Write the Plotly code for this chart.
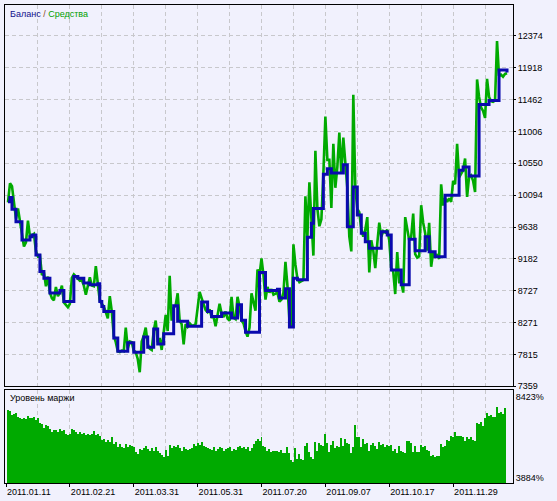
import plotly.graph_objects as go

# ---- data ----
date_labels = ["2011.01.11", "2011.02.21", "2011.03.31", "2011.05.31",
               "2011.07.20", "2011.09.07", "2011.10.17", "2011.11.29"]
date_idx = [-1, 31, 63, 95, 127, 159, 191, 223]   # trade index of each date label

balance_ticks = [7359, 7815, 8271, 8727, 9182, 9638, 10094, 10550,
                 11006, 11462, 11918, 12374]
margin_ticks = [3884, 8423]

# balance: trade index where balance changes, and the new balance
balance_idx = [0, 1, 2, 4, 7, 11, 12, 14, 16, 18,
               21, 26, 28, 33, 35, 38, 41, 45, 46, 47,
               48, 53, 55, 60, 63, 68, 70, 73, 75, 78,
               83, 85, 90, 97, 100, 102, 107, 112, 115, 117,
               119, 126, 129, 135, 136, 139, 141, 143, 145, 150,
               152, 153, 158, 160, 162, 168, 170, 173, 175, 177,
               179, 181, 187, 190, 192, 197, 201, 204, 209, 211,
               214, 219, 226, 228, 231, 236, 241, 246, 250]
balance_val = [9999, 10061, 9894, 9714, 9453, 9500, 9524, 9239, 9001, 8907,
               8693, 8730, 8574, 8930, 8907, 8836, 8811, 8826, 8574, 8502,
               8431, 8052, 7861, 7981, 7847, 8066, 7918, 8180, 7966, 8113,
               8512, 8289, 8217, 8565, 8431, 8360, 8408, 8337, 8526, 8303,
               8132, 8987, 8730, 8750, 8622, 8754, 8209, 8907, 8883, 9491,
               9691, 9904, 10393, 10474, 10412, 10531, 9642, 10212, 9809, 9548,
               9429, 9334, 9571, 9524, 9025, 8811, 9463, 9300, 9500, 9286,
               9215, 10094, 10450, 10497, 10369, 11391, 11448, 11885, 11851]

equity = [9990, 10265, 10222, 10010, 9760, 9905, 9700, 9560, 9360, 9420,
          9730, 9500, 9520, 9540, 9290, 9220, 9230, 8950, 8990, 8790,
          8930, 8700, 8620, 8590, 8780, 8650, 8700, 8800, 8560, 8520,
          8490, 8540, 8910, 8960, 8930, 8890, 8870, 8880, 8800, 8670,
          8800, 8920, 8800, 8790, 9080, 8830, 8580, 8540, 8500, 8420,
          8330, 8650, 8430, 8080, 7990, 7860, 7850, 7870, 7860, 8200,
          7900, 8000, 7990, 7870, 7850, 7750, 7560, 8000, 8080, 8200,
          7960, 7900, 7880, 8150, 8300, 7990, 8050, 7880, 8120, 8380,
          8150, 8940, 8300, 8480, 8520, 8690, 8300, 8250, 7960, 8250,
          8210, 8260, 8230, 8230, 8250, 8450, 8710, 8620, 8530, 8450,
          8420, 8460, 8350, 8350, 8220, 8380, 8540, 8400, 8350, 8430,
          8330, 8300, 8640, 8340, 8320, 8640, 8500, 8300, 8260, 8150,
          8070, 8200, 8690, 8560, 8440, 9030, 8950, 9190, 8950, 8600,
          8780, 8700, 8750, 8670, 8680, 8700, 8570, 8600, 8700, 9140,
          8800, 8300, 8200, 9390, 9100, 8900, 8850, 8870, 8880, 10080,
          9500, 10280, 9700, 9230, 10730, 9900, 9650, 9750, 10400, 11220,
          10600, 10600, 9910, 10830, 10200, 10500, 10990, 10400, 10920, 10500,
          10200, 9500, 9290, 11530, 10200, 9900, 9850, 9600, 9500, 9600,
          9780, 8990, 9450, 9300, 9050, 9400, 9700, 9500, 9580, 9560,
          9600, 9450, 9050, 9000, 8680, 9280, 8850, 8850, 8700, 9780,
          9600, 9450, 9500, 9830, 9250, 9200, 9220, 9950, 9700, 9550,
          9300, 9700, 9070, 9280, 9200, 9250, 9180, 10250, 9950, 10050,
          10000, 10050, 10000, 10300, 10250, 10830, 10350, 10400, 10450, 10620,
          10070, 10360, 10380, 10300, 10140, 11750, 11500, 11350, 11300, 11200,
          11760, 11500, 11440, 11430, 11450, 12300, 11800, 11820, 11790, 11830,
          11840]

margin = [7651, 7612, 7391, 7468, 7485, 7302, 7208, 7153, 7247, 7153,
          7335, 7208, 7247, 7280, 7097, 7247, 6970, 6914, 6693, 6837,
          6781, 6599, 6471, 6543, 6560, 6471, 6599, 6504, 6543, 6360,
          6283, 6322, 6599, 6543, 6471, 6360, 6471, 6360, 6416, 6283,
          6360, 6283, 6322, 6504, 6283, 6322, 6227, 5989, 6045, 5862,
          5989, 5862, 6139, 5768, 5862, 5618, 5768, 5585, 5546, 5768,
          5585, 5729, 5673, 5585, 5308, 5214, 5491, 5435, 5546, 5673,
          5491, 5396, 5546, 5396, 5585, 5363, 5252, 5175, 5064, 5435,
          5119, 5729, 5546, 5673, 5585, 5729, 5546, 5396, 5618, 5491,
          5435, 5491, 5546, 5768, 5673, 5806, 5729, 5862, 5673, 5585,
          5546, 5491, 5435, 5585, 5363, 5491, 5585, 5546, 5396, 5491,
          5546, 5618, 5396, 5491, 5435, 5585, 5673, 5546, 5618, 5491,
          5585, 5396, 5546, 5768, 5917, 6045, 5950,
          6172, 5673, 5618, 5363, 5491, 5308, 5363, 5396, 5363, 5308,
          5435, 5252, 5252, 5618, 5252, 4881, 4754, 5546, 4937, 5214,
          4937, 4881, 5673, 5806, 5308, 5064, 4937, 5862, 5396, 5806,
          5729, 5673, 6322, 5806, 5308, 5729, 5917, 5546, 5673, 5618,
          6100, 5673, 6045, 5806, 5768, 5252, 5618, 6820, 6172, 6139,
          5618, 6045, 5768, 5806, 5396, 5729, 5806, 5673, 5491, 5862,
          5729, 5768, 5618, 5729, 5673, 5729, 5363, 5491, 5252, 5673,
          5363, 5308, 5252, 5950, 5917, 5806, 5308, 5673, 5308, 5308,
          5729, 5585, 5673, 5435, 5363, 5119, 5175, 5031, 5119, 5119,
          5768, 5618, 5673, 5989, 5950, 6227, 6172, 6471, 6227, 6227,
          6227, 6139, 5917, 6139, 6045, 6139, 5989, 5950, 6970, 6914,
          7025, 6781, 7247, 7524, 7335, 7391, 7280, 7280, 7834, 7524,
          7579, 7468, 7762]

# ---- styling ----
BG = "#F1F1FD"
GRID = "#C8C8CC"
GREEN = "#00AA00"
BLUE = "#0A0AAE"
FONT = "Liberation Sans, Arial, sans-serif"

x_range = [-1.5, 253]
grid_idx = list(range(15, 253, 16))

fig = go.Figure()

fig.add_trace(go.Scatter(x=list(range(len(equity))), y=equity, mode="lines",
                         line=dict(color=GREEN, width=2.6), xaxis="x", yaxis="y",
                         hoverinfo="skip"))
fig.add_trace(go.Scatter(x=balance_idx, y=balance_val, mode="lines",
                         line=dict(color=BLUE, width=3, shape="hv"), xaxis="x", yaxis="y",
                         hoverinfo="skip"))
fig.add_trace(go.Bar(x=list(range(len(margin))), y=margin, width=1.0,
                     marker=dict(color=GREEN, line=dict(width=0)), xaxis="x2", yaxis="y2",
                     hoverinfo="skip"))

common_x = dict(range=x_range, showline=True, mirror=True, linecolor="black", linewidth=1,
                showgrid=False, zeroline=False, fixedrange=True,
                minor=dict(tickmode="array", tickvals=grid_idx, showgrid=True,
                           gridcolor=GRID, griddash="4px,3px", gridwidth=1, ticks=""))

fig.update_layout(
    width=557, height=501,
    margin=dict(l=4, r=44, t=4, b=17),
    paper_bgcolor=BG, plot_bgcolor=BG,
    showlegend=False, bargap=0,
    font=dict(family=FONT, size=9, color="black"),
    xaxis=dict(anchor="y", showticklabels=False, ticks="", **common_x),
    xaxis2=dict(anchor="y2", matches="x", tickmode="array", tickvals=date_idx, ticktext=date_labels,
                ticks="outside", ticklen=3, tickcolor="black",
                ticklabelposition="outside right",
                tickfont=dict(family=FONT, size=9, color="black"), **common_x),
    yaxis=dict(domain=[0.2021, 1.0], range=[7358, 12816], side="right",
               tickmode="array", tickvals=balance_ticks, ticktext=[str(v) for v in balance_ticks],
               ticks="outside", ticklen=2, tickcolor="black",
               showgrid=True, gridcolor=GRID, griddash="4px,3px", gridwidth=1,
               showline=True, mirror=True, linecolor="black", linewidth=1,
               zeroline=False, fixedrange=True,
               tickfont=dict(family=FONT, size=9, color="black")),
    yaxis2=dict(domain=[0.0, 0.19375], range=[3607, 8759], side="right",
                tickmode="array", tickvals=margin_ticks, ticktext=[f"{v}%" for v in margin_ticks],
                ticks="", showgrid=False,
                showline=True, mirror=True, linecolor="black", linewidth=1,
                zeroline=False, fixedrange=True,
                tickfont=dict(family=FONT, size=9, color="black")),
    annotations=[
        dict(xref="paper", yref="paper", x=0.006, y=0.9806, xanchor="left", yanchor="middle",
             showarrow=False, font=dict(family=FONT, size=9),
             text="<span style='color:#10108C'>Баланс</span> <span style='color:#8A4A1A'>/</span> "
                  "<span style='color:#00A000'>Средства</span>"),
        dict(xref="paper", yref="paper", x=0.006, y=0.177, xanchor="left", yanchor="middle",
             showarrow=False, font=dict(family=FONT, size=9, color="black"),
             text="Уровень маржи"),
    ],
)

fig.write_html("out.html", config={"displayModeBar": False, "staticPlot": True},
               post_script="document.body.style.margin='0';document.body.style.background='" + BG + "';")
